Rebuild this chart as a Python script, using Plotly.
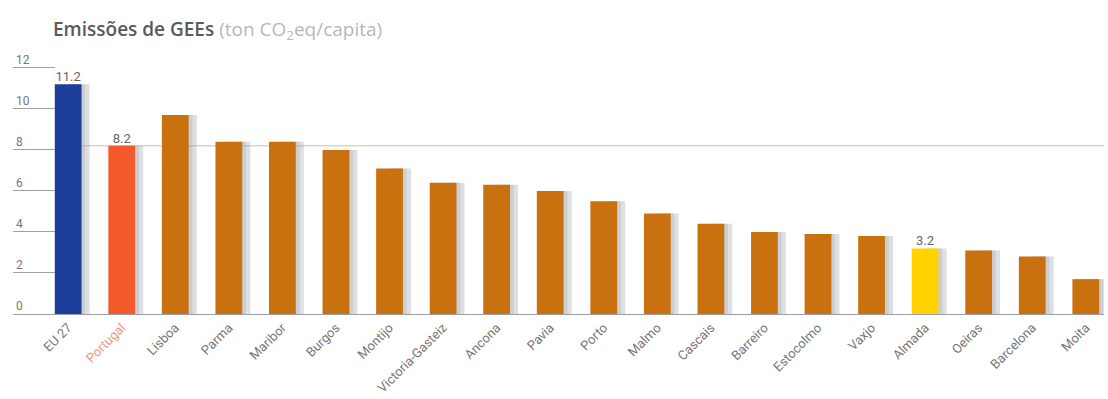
import plotly.graph_objects as go

# Per-capita greenhouse gas emissions (ton CO2eq/capita)
cities = ["EU 27", "Portugal", "Lisboa", "Parma", "Maribor", "Burgos", "Montijo",
          "Victoria-Gasteiz", "Ancona", "Pavia", "Porto", "Malmo", "Cascais",
          "Barreiro", "Estocolmo", "Vaxjo", "Almada", "Oeiras", "Barcelona", "Moita"]
emissions = [11.2, 8.2, 9.7, 8.4, 8.4, 8.0, 7.1, 6.4, 6.3, 6.0, 5.5, 4.9, 4.4,
             4.0, 3.9, 3.8, 3.2, 3.1, 2.8, 1.7]
labelled = ["EU 27", "Portugal", "Almada"]
y_ticks = [0, 2, 4, 6, 8, 10, 12]
portugal_reference = 8.2

BLUE = "#1E3E9B"
RED = "#F4592A"
ORANGE = "#C9700F"
YELLOW = "#FFD200"
special = {"EU 27": BLUE, "Portugal": RED, "Almada": YELLOW}
bar_colors = [special.get(c, ORANGE) for c in cities]

tick_text = [f"<span style='color:#F29580'>{c}</span>" if c == "Portugal" else c
             for c in cities]
xs = list(range(len(cities)))

fig = go.Figure()

# soft drop shadow to the right of each bar
fig.add_trace(go.Bar(
    x=xs, y=emissions, width=0.42, offset=-0.02,
    marker=dict(color="rgba(150,155,165,0.32)", line=dict(width=0)),
    hoverinfo="skip", showlegend=False,
))
fig.add_trace(go.Bar(
    x=xs, y=emissions, width=0.3, offset=0.02,
    marker=dict(color="rgba(150,155,165,0.25)", line=dict(width=0)),
    hoverinfo="skip", showlegend=False,
))

fig.add_trace(go.Bar(
    x=xs, y=emissions, width=0.5, offset=-0.25,
    marker=dict(color=bar_colors, line=dict(width=0)),
    showlegend=False,
))

# value labels for the highlighted bars
lab_idx = [cities.index(c) for c in labelled]
fig.add_trace(go.Scatter(
    x=lab_idx, y=[emissions[i] for i in lab_idx],
    text=[f"{emissions[i]:.1f}" for i in lab_idx],
    mode="text", textposition="top center", cliponaxis=False,
    textfont=dict(family="Roboto", size=13, color="#666"),
    hoverinfo="skip", showlegend=False,
))

# national reference line
fig.add_shape(type="line", xref="x", yref="y", x0=-0.25, x1=19.34,
              y0=portugal_reference, y1=portugal_reference,
              line=dict(color="#E6B396", width=1), layer="below")

# y tick labels sit above their short tick lines
for t in y_ticks:
    fig.add_annotation(x=0.0, xref="paper", y=t, yref="y", text=str(t),
                       showarrow=False, xanchor="left", yanchor="bottom",
                       yshift=-1, xshift=1,
                       font=dict(family="Roboto", size=12, color="#777"))

fig.update_layout(
    width=1108, height=399,
    margin=dict(l=13, r=4, t=55, b=85),
    paper_bgcolor="white", plot_bgcolor="white",
    barmode="overlay",
    font=dict(family="Roboto", color="#777"),
    title=dict(
        text="<span style='font-weight:600'>Emissões de GEEs</span> "
             "<span style='color:#B8B8B8'>(ton CO<sub>2</sub>eq/capita)</span>",
        x=53 / 1108, xanchor="left", y=1 - 29 / 399, yanchor="middle",
        font=dict(family="Open Sans", size=19, color="#5A5A5A"),
    ),
    xaxis=dict(
        range=[-1.03, 19.34], tickmode="array", tickvals=xs, ticktext=tick_text,
        tickangle=-45, tickfont=dict(family="Roboto", size=13, color="#777"),
        showgrid=False, zeroline=False, showline=True, linecolor="#9A9FA8",
        linewidth=1, ticks="", automargin=False,
    ),
    yaxis=dict(
        range=[0, 12.63], tickmode="array", tickvals=y_ticks,
        showticklabels=False, ticks="inside", ticklen=42, tickcolor="#A0A0A0",
        tickwidth=1, showgrid=False, zeroline=False, showline=False,
        automargin=False,
    ),
)

fig.write_html("out.html")
